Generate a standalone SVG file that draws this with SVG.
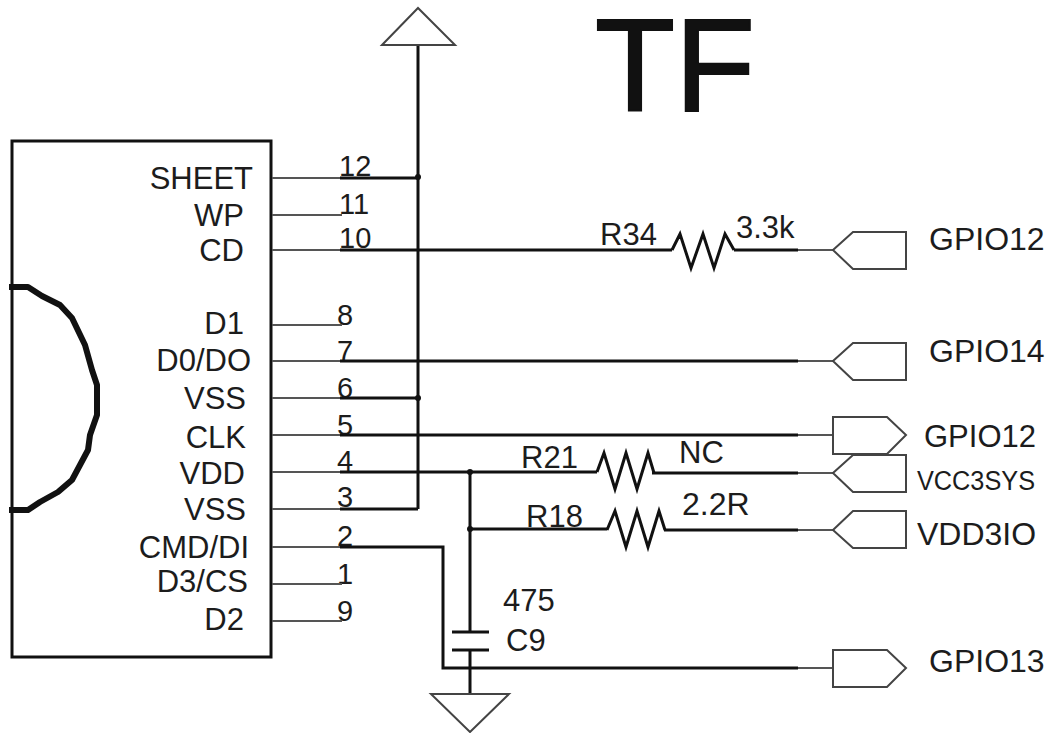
<svg xmlns="http://www.w3.org/2000/svg" width="1049" height="733" viewBox="0 0 1049 733">
<style>
text{font-family:"Liberation Sans",Arial,sans-serif;fill:#1c1c1c;font-size:31px}
.p{text-anchor:end}
.n{font-size:29px}
.g{font-size:32px}
.l{fill:none;stroke:#111;stroke-width:3}
.t{fill:none;stroke:#555;stroke-width:2}
.o{fill:#fff;stroke:#444;stroke-width:2}
</style>
<rect width="1049" height="733" fill="#fff"/>
<g id="connector">
<rect x="12" y="141" width="259" height="516" fill="none" stroke="#111" stroke-width="3"/>
<path d="M9 287H28L42 296L60 305L72 318L85 345L92 370L97 385V415L90 435L88 450L72 480L58 492L40 502L28 510H9" fill="none" stroke="#111" stroke-width="6" stroke-linejoin="round"/>
<text class="p" x="253" y="189">SHEET</text><text class="p" x="244" y="226">WP</text><text class="p" x="244" y="261">CD</text>
<text class="p" x="244" y="334">D1</text><text class="p" x="251" y="371">D0/DO</text><text class="p" x="246" y="409">VSS</text>
<text class="p" x="246" y="448">CLK</text><text class="p" x="245" y="484">VDD</text><text class="p" x="246" y="520">VSS</text>
<text class="p" x="249" y="558">CMD/DI</text><text class="p" x="248" y="592">D3/CS</text><text class="p" x="244" y="630">D2</text>
<text class="n" x="339" y="176">12</text><text class="n" x="339" y="214">11</text><text class="n" x="339" y="248">10</text><text class="n" x="337" y="325">8</text><text class="n" x="337" y="361">7</text><text class="n" x="337" y="398">6</text><text class="n" x="337" y="435">5</text><text class="n" x="337" y="471">4</text><text class="n" x="337" y="507">3</text><text class="n" x="337" y="546">2</text><text class="n" x="337" y="584">1</text><text class="n" x="337" y="621">9</text>
</g>
<g id="connectors">
<path class="t" d="M272 178H340M272 215H342M272 250H340M272 325H342M272 361H340M272 398H340M272 435H340M272 472H340M272 509H340M272 547H340M272 584H342M272 621H342M798 250H833M798 361H833M798 435H833M798 473H833M798 530H833M798 668H833"/>
<path class="l" d="M340 178H418M340 250H672M340 361H798M340 398H418M340 435H798M340 472H597M340 509H418M340 547H443V668H798M418 46V509M470 472V632M470 529H607M470 650V694M734 250H798M652 473H798M664 530H798"/>
<path class="l" d="M672 250L680 234L691 268L703 234L714 268L725 234L734 250M597 472L604 453L615 489L626 453L637 489L648 453L654 473M607 530L615 511L626 547L637 511L648 547L659 511L665 530"/>
<path class="l" d="M452 632H489M452 650H489"/>
<circle cx="418" cy="177" r="3" fill="#111"/><circle cx="418" cy="398" r="3" fill="#111"/><circle cx="470" cy="472" r="3" fill="#111"/><circle cx="470" cy="529" r="3" fill="#111"/>
</g>
<g id="power-top"><path class="o" d="M382 45L418 8L455 45Z"/></g>
<g id="ground"><path class="o" d="M431 694H509L470 732Z"/></g>
<g id="title"><text x="595" y="111" style="font-size:131px;fill:#111;stroke:#111;stroke-width:2">TF</text></g>
<g id="r34"><text x="600" y="245">R34</text><text x="736" y="238">3.3k</text></g>
<g id="r21"><text x="521" y="468">R21</text><text x="679" y="463">NC</text></g>
<g id="r18"><text x="526" y="527">R18</text><text class="g" x="682" y="515">2.2R</text></g>
<g id="c9"><text x="503" y="611">475</text><text x="506" y="651">C9</text></g>
<g id="port-gpio12a"><path class="o" d="M833 250L853 232H906V269H853Z"/><text class="g" x="929" y="250">GPIO12</text></g>
<g id="port-gpio14"><path class="o" d="M833 361L853 343H906V380H853Z"/><text class="g" x="929" y="362">GPIO14</text></g>
<g id="port-gpio12b"><path class="o" d="M833 417H887L906 435L887 454H833Z"/><text x="924" y="447">GPIO12</text></g>
<g id="port-vcc3sys"><path class="o" d="M833 473L853 455H906V492H853Z"/><text x="917" y="490" style="font-size:27px" textLength="118" lengthAdjust="spacingAndGlyphs">VCC3SYS</text></g>
<g id="port-vdd3io"><path class="o" d="M833 530L853 511H906V548H853Z"/><text class="g" x="917" y="545">VDD3IO</text></g>
<g id="port-gpio13"><path class="o" d="M833 650H887L906 668L887 687H833Z"/><text class="g" x="929" y="672">GPIO13</text></g>
</svg>
